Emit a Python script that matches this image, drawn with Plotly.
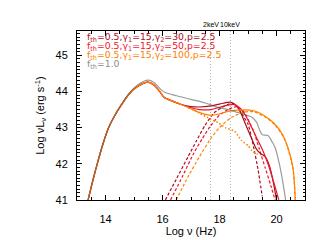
import numpy as np
import plotly.graph_objects as go

# ---- data (log nu [Hz], log nuLnu [erg/s]) ----
# shared rising part (all four models)
rise_x = [13.39, 13.55, 13.71, 13.9, 14.1, 14.3, 14.55, 14.85, 15.15, 15.49, 15.7, 15.9, 16.05, 16.2, 16.66]
rise_y = [41.0, 41.52, 42.0, 42.52, 42.98, 43.3, 43.62, 43.95, 44.15, 44.26, 44.18, 44.0, 43.84, 43.78, 43.64]

gray_x = [13.39, 13.55, 13.71, 13.9, 14.1, 14.3, 14.55, 14.85, 15.15, 15.49, 15.7, 15.95, 16.1, 16.5, 17.0, 17.5, 17.95, 18.3, 18.6, 18.9, 19.15, 19.3, 19.4, 19.5, 19.7, 19.85, 19.95, 20.1, 20.2, 20.32]
gray_y = [41.0, 41.52, 42.0, 42.52, 42.98, 43.3, 43.63, 43.97, 44.19, 44.31, 44.25, 44.05, 43.97, 43.88, 43.78, 43.68, 43.56, 43.5, 43.43, 43.36, 43.28, 43.15, 42.95, 42.8, 42.78, 42.6, 42.45, 42.0, 41.6, 41.0]

dred_x = rise_x + [17.0, 17.3, 17.7, 18.0, 18.41, 18.6, 18.75, 18.9, 19.1, 19.3, 19.45, 19.6, 19.75, 19.88, 20.0]
dred_y = rise_y + [43.58, 43.57, 43.6, 43.65, 43.70, 43.6, 43.4, 43.12, 42.75, 42.4, 42.28, 42.2, 41.95, 41.52, 41.0]

red_x = rise_x + [17.0, 17.3, 17.7, 18.0, 18.3, 18.5, 18.7, 18.9, 19.1, 19.3, 19.5, 19.7, 19.9, 20.08]
red_y = rise_y + [43.55, 43.5, 43.5, 43.56, 43.62, 43.64, 43.55, 43.35, 43.05, 42.72, 42.4, 42.0, 41.5, 41.0]

org_x = rise_x + [17.0, 17.36, 17.7, 18.0, 18.3, 18.77, 19.23, 19.59, 19.94, 20.23, 20.4, 20.58, 20.66]
org_y = rise_y + [43.52, 43.40, 43.34, 43.38, 43.45, 43.49, 43.46, 43.32, 43.10, 42.78, 42.45, 41.88, 41.0]

# thermal components (dashed)
dred_th_x = [16.1, 16.5, 16.9, 17.2, 17.48, 17.8, 18.18, 18.45, 18.65, 18.85, 19.0, 19.2, 19.35, 19.5]
dred_th_y = [41.0, 41.6, 42.2, 42.65, 43.05, 43.4, 43.6, 43.67, 43.55, 43.3, 43.1, 42.45, 41.85, 41.1]
red_th_x = [16.28, 16.7, 17.1, 17.4, 17.66, 18.0, 18.3, 18.6, 18.85, 19.05, 19.2, 19.4, 19.6, 19.8, 19.95]
red_th_y = [41.0, 41.65, 42.3, 42.7, 43.02, 43.35, 43.5, 43.58, 43.45, 43.15, 42.9, 42.4, 41.9, 41.4, 41.0]
org_th_x = [16.48, 16.9, 17.3, 17.71, 18.0, 18.41, 18.88, 19.2, 19.59, 19.94, 20.23, 20.4, 20.58, 20.66]
org_th_y = [41.0, 41.65, 42.2, 42.72, 43.0, 43.28, 43.43, 43.44, 43.3, 43.08, 42.76, 42.43, 41.86, 41.0]

# non-thermal component (dotted, orange model)
org_nt_x = [16.9, 17.3, 17.6, 17.95, 18.2, 18.53, 18.77, 19.0, 19.15, 19.3, 19.45, 19.55]
org_nt_y = [43.55, 43.4, 43.27, 43.14, 43.0, 42.9, 42.65, 42.5, 42.35, 42.28, 42.25, 42.22]

band_keV = [2, 10]
band_labels = ["2keV", "10keV"]
legend_labels = [
    "f<sub>th</sub>=0.5,γ<sub>1</sub>=15,γ<sub>2</sub>=30,p=2.5",
    "f<sub>th</sub>=0.5,γ<sub>1</sub>=15,γ<sub>2</sub>=50,p=2.5",
    "f<sub>th</sub>=0.5,γ<sub>1</sub>=15,γ<sub>2</sub>=100,p=2.5",
    "f<sub>th</sub>=1.0",
]

DRED = "#A8101C"
RED = "#F0142A"
ORG = "#FF8000"
GRAY = "#5A5A5A"
legend_colors = [DRED, RED, ORG, "#8C8C8C"]

fig = go.Figure()

def add(x, y, color, dash="solid", width=1.2, opacity=1.0, smoothing=0.5):
    fig.add_trace(go.Scatter(x=x, y=y, mode="lines", opacity=opacity,
                             line=dict(color=color, width=width, dash=dash, shape="spline", smoothing=smoothing),
                             showlegend=False, hoverinfo="skip"))

add(dred_th_x, dred_th_y, DRED, dash="3px,2px")
add(red_th_x, red_th_y, RED, dash="3px,2px")
add(org_th_x, org_th_y, ORG, dash="3px,2px")
add(org_nt_x, org_nt_y, ORG, dash="1.5px,2px", width=1.5)
add(dred_x, dred_y, DRED, smoothing=0.8)
add(red_x, red_y, RED, smoothing=0.8)
add(org_x, org_y, ORG, smoothing=0.8)
add(gray_x, gray_y, GRAY, opacity=0.6, smoothing=0.8)

# keV markers
for e, lab in zip(band_keV, band_labels):
    xv = np.log10(e * 2.418e17)
    fig.add_shape(type="line", x0=xv, x1=xv, y0=0, y1=1, xref="x", yref="paper",
                  line=dict(color="#B4B4B4", width=1, dash="1px,2px"), layer="below")
    fig.add_annotation(x=xv, y=1, xref="x", yref="paper", text=lab, showarrow=False,
                       yanchor="bottom", yshift=1, font=dict(size=7, color="black"))

for i, (lab, c) in enumerate(zip(legend_labels, legend_colors)):
    fig.add_annotation(x=0.035, y=0.96 - i * 0.052, xref="paper", yref="paper", text=lab,
                       showarrow=False, xanchor="left", yanchor="middle",
                       font=dict(size=9.3, color=c, family="DejaVu Sans"))

axis_common = dict(showgrid=False, zeroline=False, showline=True, linecolor="black", linewidth=1,
                   mirror="ticks", ticks="inside", tickcolor="black", ticklen=5, tickwidth=1,
                   tickfont=dict(size=11, color="black"))

fig.update_xaxes(range=[13, 21], tick0=14, dtick=2, ticklabelstandoff=9,
                 minor=dict(dtick=0.5, ticks="inside", ticklen=3, tickcolor="black"),
                 title=dict(text="Log ν (Hz)", font=dict(size=11), standoff=3), **axis_common)
fig.update_yaxes(range=[41, 45.67], dtick=1, ticklabelstandoff=6,
                 minor=dict(dtick=0.1, ticks="inside", ticklen=2.5, tickcolor="black"),
                 title=dict(text="Log νL<sub>ν</sub> (erg s<sup>-1</sup>)", font=dict(size=11), standoff=8),
                 **axis_common)

fig.update_layout(width=320, height=240, margin=dict(l=69, r=23, t=23, b=44),
                  paper_bgcolor="white", plot_bgcolor="white",
                  font=dict(family="Liberation Sans, Arial, sans-serif", color="black"))

fig.write_html("out.html")
